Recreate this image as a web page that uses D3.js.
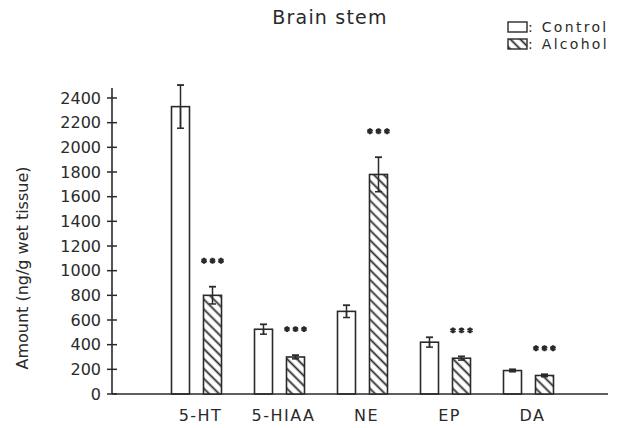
<!DOCTYPE html>
<html><head><meta charset="utf-8">
<script src="https://cdn.jsdelivr.net/npm/d3@7"></script>
<style>body{margin:0;background:#fff}svg{display:block}text{font-family:"DejaVu Sans",sans-serif;fill:#2a2a2a}</style>
</head><body><svg id="c" width="623" height="428"></svg>
<script>
const categories = ["5-HT","5-HIAA","NE","EP","DA"];
const series = ["Control","Alcohol"];
const controlMean = [2330, 525, 670, 420, 190];
const controlErr  = [175, 40, 50, 40, 10];
const alcoholMean = [800, 300, 1780, 290, 150];
const alcoholErr  = [70, 15, 140, 15, 10];
const significance = ["***","***","***","***","***"]; // on alcohol bars
const yTicks = [0,200,400,600,800,1000,1200,1400,1600,1800,2000,2200,2400];

const data = categories.map((c,i)=>({cat:c, vals:[
  {s:"Control", v:controlMean[i], e:controlErr[i]},
  {s:"Alcohol", v:alcoholMean[i], e:alcoholErr[i], sig:significance[i]}
]}));

const svg = d3.select("#c");
const ink = "#2a2a2a";
const defs = svg.append("defs");
const pat = defs.append("pattern").attr("id","hatch").attr("patternUnits","userSpaceOnUse")
  .attr("width",7).attr("height",7).attr("patternTransform","rotate(45)");
pat.append("rect").attr("width",7).attr("height",7).attr("fill","#fff");
pat.append("line").attr("x1",0).attr("y1",3.5).attr("x2",7).attr("y2",3.5).attr("stroke",ink).attr("stroke-width",1.8);

const y = d3.scaleLinear().domain([0,2400]).range([394,98]);
const x0 = d3.scaleBand().domain(categories).range([155,570]).paddingInner(0).paddingOuter(0);
const x1 = d3.scaleBand().domain(series).range([-25,25]).paddingInner(0.4375).paddingOuter(0);

// y axis
const yAxis = d3.axisLeft(y).tickValues(yTicks).tickFormat(d3.format("d")).tickSize(0).tickPadding(11);
const ga = svg.append("g").attr("transform","translate(112,0)").call(yAxis);
ga.select(".domain").remove();
ga.selectAll("text").style("font-size","16px").attr("fill","#2a2a2a");
svg.append("line").attr("x1",112).attr("x2",112).attr("y1",88).attr("y2",y(0)).attr("stroke",ink).attr("stroke-width",1.6);
svg.selectAll(".yt").data(yTicks).join("line").attr("class","yt")
  .attr("x1",107).attr("x2",117).attr("y1",d=>y(d)).attr("y2",d=>y(d)).attr("stroke",ink).attr("stroke-width",1.5);
// baseline
svg.append("line").attr("x1",112).attr("x2",608).attr("y1",y(0)).attr("y2",y(0)).attr("stroke",ink).attr("stroke-width",1.6);

// x labels
const xAxis = d3.axisBottom(x0).tickSize(0).tickPadding(16);
const gx = svg.append("g").attr("transform",`translate(4,${y(0)})`).call(xAxis);
gx.select(".domain").remove();
gx.selectAll("text").style("font-size","16px").style("letter-spacing","1.5px").attr("fill","#2a2a2a");

// bars
const g = svg.selectAll(".grp").data(data).join("g").attr("class","grp")
  .attr("transform",d=>`translate(${x0(d.cat)+x0.bandwidth()/2},0)`);
const b = g.selectAll(".bar").data(d=>d.vals).join("g").attr("class","bar");
// error bars
b.append("line").attr("x1",d=>x1(d.s)+x1.bandwidth()/2).attr("x2",d=>x1(d.s)+x1.bandwidth()/2)
  .attr("y1",d=>y(d.v-d.e)).attr("y2",d=>y(d.v+d.e)).attr("stroke",ink).attr("stroke-width",1.5);
b.append("line").attr("x1",d=>x1(d.s)+x1.bandwidth()/2-3.5).attr("x2",d=>x1(d.s)+x1.bandwidth()/2+3.5)
  .attr("y1",d=>y(d.v+d.e)).attr("y2",d=>y(d.v+d.e)).attr("stroke",ink).attr("stroke-width",1.8);
b.append("rect").attr("x",d=>x1(d.s)).attr("width",x1.bandwidth())
  .attr("y",d=>y(d.v)).attr("height",d=>y(0)-y(d.v))
  .attr("fill",d=>d.s==="Control"?"#fff":"url(#hatch)").attr("fill-opacity",d=>d.s==="Control"?0:1)
  .attr("stroke",ink).attr("stroke-width",1.6);
b.append("line").attr("x1",d=>x1(d.s)+x1.bandwidth()/2).attr("x2",d=>x1(d.s)+x1.bandwidth()/2)
  .attr("y1",d=>y(d.v-d.e)).attr("y2",d=>y(d.v)).attr("stroke",ink).attr("stroke-width",1.5);
b.append("line").attr("x1",d=>x1(d.s)+x1.bandwidth()/2-3.5).attr("x2",d=>x1(d.s)+x1.bandwidth()/2+3.5)
  .attr("y1",d=>y(d.v-d.e)).attr("y2",d=>y(d.v-d.e)).attr("stroke",ink).attr("stroke-width",1.5);

// significance stars
const star = d3.symbol(d3.symbolAsterisk, 24);
b.filter(d=>d.sig).each(function(d){
  const cx = x1(d.s)+x1.bandwidth()/2;
  const cy = y(d.v+d.e)-26;
  for(let k=-1;k<=1;k++){
    d3.select(this).append("path").attr("d",star())
      .attr("transform",`translate(${cx+k*8.5},${cy})`).attr("stroke",ink).attr("stroke-width",2.2).attr("fill","none");
  }
});

// title
svg.append("text").attr("x",330).attr("y",24).attr("text-anchor","middle").style("font-size","19px").style("letter-spacing","1.2px").text("Brain stem");
// legend
const lg = svg.append("g").attr("transform","translate(508,22)");
series.forEach((s,i)=>{
  lg.append("rect").attr("x",0).attr("y",i*17).attr("width",19).attr("height",10)
    .attr("fill",s==="Control"?"#fff":"url(#hatch)").attr("stroke",ink).attr("stroke-width",1.4);
  lg.append("text").attr("x",20).attr("y",i*17+10).style("font-size","14px").style("letter-spacing","2.3px").text(": "+s);
});
// y label
svg.append("text").attr("transform","translate(28,268) rotate(-90)").attr("text-anchor","middle")
  .style("font-size","16px").text("Amount (ng/g wet tissue)");
</script></body></html>
